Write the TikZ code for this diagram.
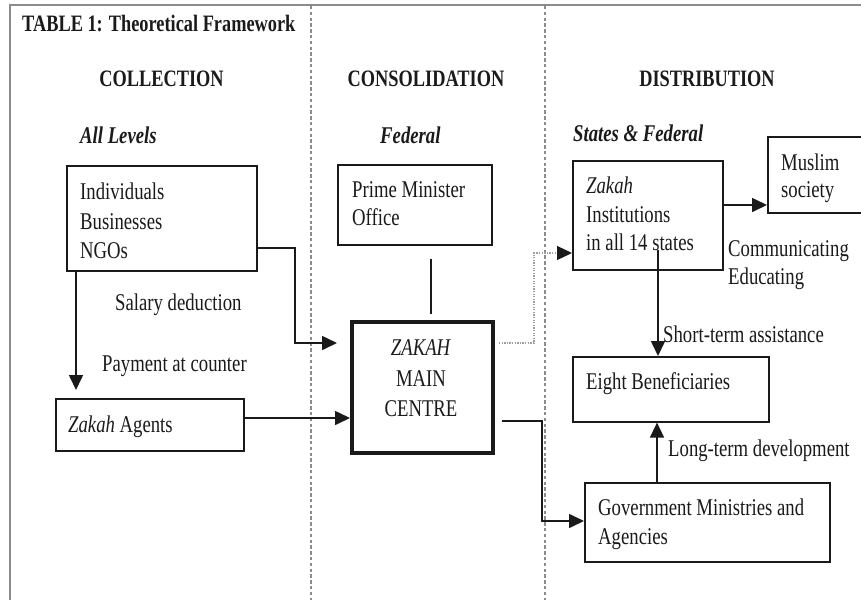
\documentclass[tikz,border=0pt]{standalone}
\usepackage{fontspec}
\setmainfont{Liberation Serif}[FakeStretch=0.78]
\usetikzlibrary{arrows.meta}
\definecolor{ink}{HTML}{1A1A1A}
\definecolor{framegray}{HTML}{8C8C8C}
\begin{document}
\begin{tikzpicture}[x=1pt,y=-1pt,
  box/.style={draw=ink, line width=1.6pt, anchor=north west, inner sep=0pt},
  txt/.style={inner sep=0pt, anchor=base west, text=ink, font=\fontsize{24}{29}\selectfont},
  ctxt/.style={txt, anchor=base},
  head/.style={inner sep=0pt, anchor=base, text=ink, font=\fontsize{23.5}{28}\selectfont\bfseries},
  lvl/.style={txt, font=\fontsize{24}{29}\selectfont\bfseries\itshape},
  conn/.style={draw=ink, line width=1.6pt},
  arr/.style={conn, -{Triangle[length=15pt,width=14pt]}},
  dotline/.style={draw=gray!75, line width=1.1pt, dash pattern=on 1.3pt off 1.3pt, -{Triangle[length=15pt,width=14pt,color=ink,fill=ink]}},
  divider/.style={draw=framegray, line width=1.2pt, dash pattern=on 3.3pt off 2.5pt}
]
\useasboundingbox (0,0) rectangle (861,600);
\clip (0,0) rectangle (861,600);
\fill[white] (0,0) rectangle (861,600);

% frame and column dividers
\draw[framegray, line width=1.5pt] (10,600) -- (10,5) -- (861,5);
\draw[divider] (311,6) -- (311,600);
\draw[divider] (545,6) -- (545,600);

% title and headings
\node[txt, font=\fontsize{23.5}{28}\selectfont\bfseries] (title) at (22,31) {TABLE 1: Theoretical Framework};
\node[head] (hcol) at (161.5,86) {COLLECTION};
\node[head] (hcon) at (426,86) {CONSOLIDATION};
\node[head] (hdis) at (707,86) {DISTRIBUTION};
\node[lvl] (lall) at (80,143) {All Levels};
\node[lvl] (lfed) at (380,143) {Federal};
\node[lvl] (lsf) at (573,141) {States \& Federal};

% boxes
\node[box, minimum width=190pt, minimum height=105pt] (ind) at (66,165) {};
\node[box, minimum width=188pt, minimum height=52pt] (ag) at (55,398) {};
\node[box, minimum width=154pt, minimum height=80pt] (pm) at (337,164) {};
\node[box, line width=4pt, minimum width=141pt, minimum height=131pt] (zmc) at (350,320) {};
\node[box, minimum width=150pt, minimum height=109pt] (zi) at (572,160) {};
\node[box, minimum width=130pt, minimum height=76pt] (ms) at (767,136) {};
\node[box, minimum width=196pt, minimum height=65pt] (eb) at (572,356) {};
\node[box, minimum width=245pt, minimum height=79pt] (gov) at (584,482) {};

% box texts
\node[txt] (ind1) at (80,199) {Individuals};
\node[txt] (ind2) at (80,229) {Businesses};
\node[txt] (ind3) at (80,258) {NGOs};
\node[txt] (pm1) at (352,197) {Prime Minister};
\node[txt] (pm2) at (352,225) {Office};
\node[ctxt] (zmc1) at (421,355) {\textit{ZAKAH}};
\node[ctxt] (zmc2) at (421,386) {MAIN};
\node[ctxt] (zmc3) at (421,416) {CENTRE};
\node[txt] (zi1) at (586,193) {\textit{Zakah}};
\node[txt] (zi2) at (586,222) {Institutions};
\node[txt] (zi3) at (586,250) {in all 14 states};
\node[txt] (ms1) at (781,170) {Muslim};
\node[txt] (ms2) at (781,197) {society};
\node[txt] (eb1) at (586,389) {Eight Beneficiaries};
\node[txt] (ag1) at (68,432) {\textit{Zakah} Agents};
\node[txt] (gov1) at (598,515) {Government Ministries and};
\node[txt] (gov2) at (598,544) {Agencies};

% free labels
\node[txt] (lsal) at (115,310) {Salary deduction};
\node[txt] (lpay) at (102,371) {Payment at counter};
\node[txt] (lcom) at (728,256) {Communicating};
\node[txt] (ledu) at (728,284) {Educating};
\node[txt] (lshort) at (663,342) {Short-term assistance};
\node[txt] (llong) at (668,456) {Long-term development};

% connectors
\draw[arr, shorten >=13pt] (ind.east |- 0,248) -| (295,343) -- (zmc.west |- 0,343);
\draw[arr, shorten >=8pt] (ind.south -| 76,0) -- (ag.north -| 76,0);
\draw[arr] (ag.east |- 0,418) -- (zmc.west |- 0,418);
\draw[conn, shorten <=13pt, shorten >=6pt] (pm.south -| 431,0) -- (zmc.north -| 431,0);
\draw[dotline, shorten <=4pt] (zmc.east |- 0,343) -| (534,253) -- (zi.west |- 0,253);
\draw[arr, shorten <=7pt] (zmc.east |- 0,421) -| (542,521) -- (gov.west |- 0,521);
\draw[arr] (zi.east |- 0,205) -- (ms.west |- 0,205);
\draw[arr, shorten <=-21pt] (zi.south -| 658,0) -- (eb.north -| 658,0);
\draw[arr] (gov.north -| 657,0) -- (eb.south -| 657,0);
\end{tikzpicture}
\end{document}
